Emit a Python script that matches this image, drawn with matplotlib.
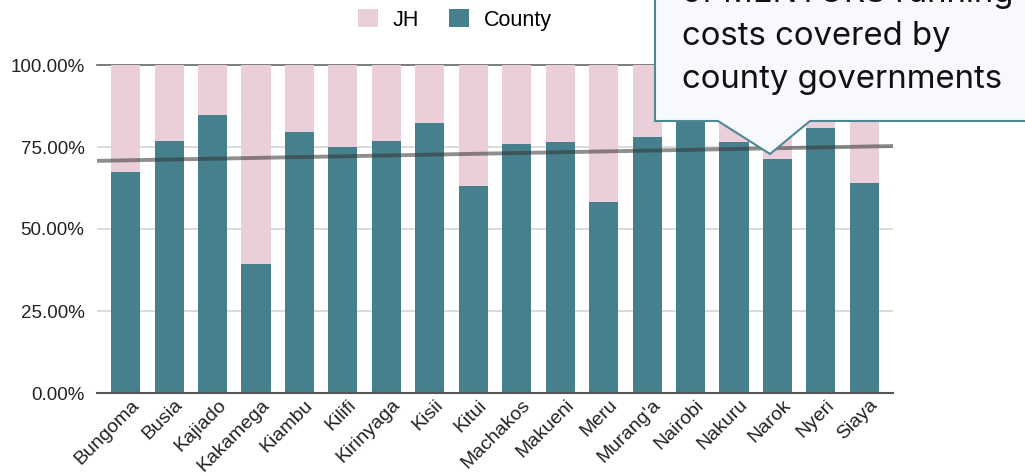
import numpy as np
import matplotlib
matplotlib.use("Agg")
import matplotlib.pyplot as plt
import matplotlib.transforms as mtransforms
from matplotlib.patches import Polygon
from matplotlib.ticker import FuncFormatter

counties = ["Bungoma", "Busia", "Kajiado", "Kakamega", "Kiambu", "Kilifi", "Kirinyaga",
            "Kisii", "Kitui", "Machakos", "Makueni", "Meru", "Murang'a", "Nairobi",
            "Nakuru", "Narok", "Nyeri", "Siaya"]
county_share = [0.674, 0.768, 0.848, 0.393, 0.796, 0.750, 0.768, 0.823, 0.631, 0.759,
                0.765, 0.582, 0.780, 0.880, 0.766, 0.713, 0.809, 0.641]
jh_share = [1 - v for v in county_share]
yticks = [0.0, 0.25, 0.50, 0.75, 1.0]
callout_lines = ["of MENTORS running", "costs covered by", "county governments"]

W, H = 1025, 476
fig = plt.figure(figsize=(W / 100, H / 100), dpi=100)
def fx(px): return px / W
def fy(py): return 1 - py / H

ax = fig.add_axes([fx(97), fy(393), fx(893) - fx(97), fy(65) - fy(393)])
teal = "#47808D"
pink = "#EACFDA"
x = np.arange(len(counties))
ax.bar(x, county_share, width=0.67, color=teal, label="County", zorder=2)
ax.bar(x, jh_share, width=0.67, bottom=county_share, color=pink, label="JH", zorder=2)

ax.set_xlim(-0.66, len(counties) - 1 + 0.66)
ax.set_ylim(0, 1.0)
for y in yticks[1:-1]:
    ax.axhline(y, color="#d4d4d4", lw=1.2, zorder=1)
ax.axhline(1.0, color="#666666", lw=1.2, zorder=1, clip_on=False)
ax.axhline(0.0, color="#555555", lw=1.5, zorder=3, clip_on=False)

# linear trendline
coef = np.polyfit(x, county_share, 1)
xl = np.array(ax.get_xlim())
ax.plot(xl, np.polyval(coef, xl), color="#333333", alpha=0.55, lw=2.8, zorder=4,
        solid_capstyle="butt")

for s in ax.spines.values():
    s.set_visible(False)
ax.set_yticks(yticks)
ax.yaxis.set_major_formatter(FuncFormatter(lambda v, p: f"{v*100:.2f}%"))
ax.tick_params(axis="y", length=0, pad=9, labelsize=13.5, labelcolor="#222222")
ax.set_xticks(x)
ax.set_xticklabels(counties, rotation=45, ha="right", rotation_mode="anchor",
                   fontsize=14, color="#222222")
ax.tick_params(axis="x", length=0, pad=2.5)
offset = mtransforms.ScaledTranslation(5 / 100, 0, fig.dpi_scale_trans)
for lab in ax.get_xticklabels():
    lab.set_transform(lab.get_transform() + offset)
for lab in ax.get_yticklabels() + ax.get_xticklabels():
    lab.set_family(["Liberation Sans", "DejaVu Sans"])

handles, labels = ax.get_legend_handles_labels()
leg = fig.legend(handles[::-1], labels[::-1], loc="center", bbox_to_anchor=(fx(455), fy(20)),
                 ncol=2, frameon=False, prop={"family": "Liberation Sans", "size": 15.5},
                 handlelength=0.9, handleheight=0.9, columnspacing=1.4, handletextpad=0.7)

# callout
pts = [(655, -10), (655, 121), (718, 121), (770, 154), (810, 121), (1035, 121), (1035, -10)]
poly = Polygon([(fx(a), fy(b)) for a, b in pts], closed=True, transform=fig.transFigure,
               facecolor="#F8F9FE", edgecolor="#4E8796", lw=1.5, zorder=10)
fig.add_artist(poly)
for i, line in enumerate(callout_lines):
    fig.text(fx(682), fy(2 + 43 * i), line, fontsize=23.7, family=["Inter", "DejaVu Sans"],
             color="#111111", va="baseline", ha="left", zorder=11)

fig.savefig("out.png", dpi=100)
